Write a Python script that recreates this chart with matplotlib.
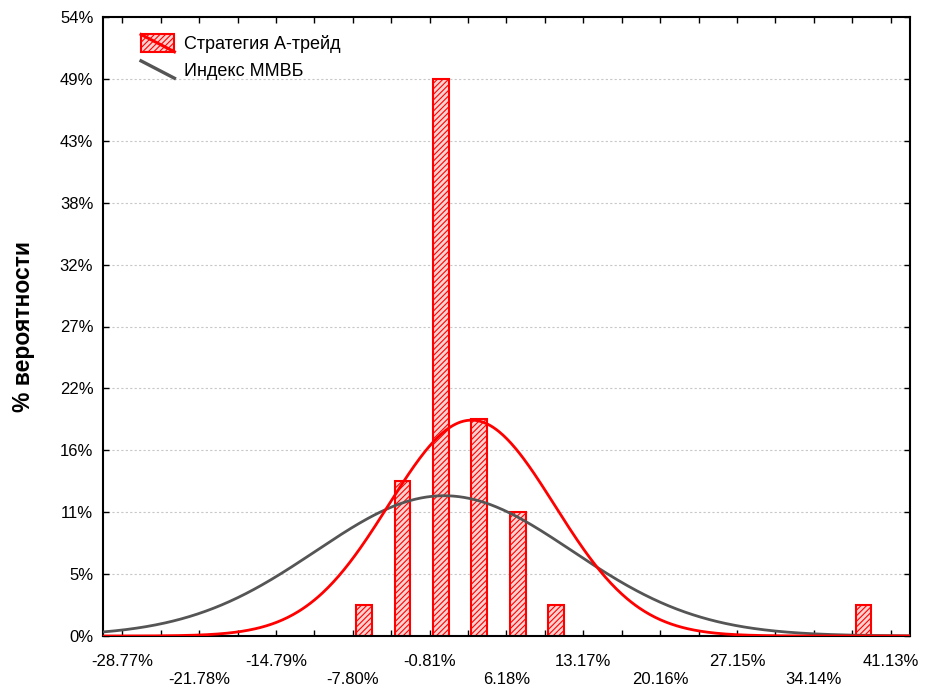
import numpy as np
import matplotlib
matplotlib.use("Agg")
import matplotlib.pyplot as plt
from matplotlib.patches import Rectangle
from matplotlib.lines import Line2D
from matplotlib.legend_handler import HandlerBase

plt.rcParams['font.family'] = ['Liberation Sans', 'DejaVu Sans']
plt.rcParams['hatch.linewidth'] = 0.8
plt.rcParams['hatch.color'] = '#ff0000'

# ---- data ----
n_obs = 37
bin_ticks = [-7.80, -4.305, -0.81, 2.685, 6.18, 9.675, 37.635]   # bin positions (%)
bin_counts = [1, 5, 18, 7, 4, 1, 1]                              # observations per bin
bin_width = 3.495

# fitted normal curves: mean, sd, peak height (in %)
strategy_mean, strategy_sd, strategy_peak = 3.0, 7.55, 18.85
index_mean, index_sd, index_peak = 0.5, 11.65, 12.25

x_labels = [-28.77, -21.78, -14.79, -7.80, -0.81, 6.18, 13.17, 20.16, 27.15, 34.14, 41.13]
y_tick_vals = [i * 2 / n_obs * 100 for i in range(11)]
y_tick_labels = ['0%', '5%', '11%', '16%', '22%', '27%', '32%', '38%', '43%', '49%', '54%']

legend_labels = ['Стратегия А-трейд', 'Индекс ММВБ']
ylabel = '% вероятности'

BAR_FACE = '#ffd2d2'
HATCH = '//////'

# ---- figure ----
fig = plt.figure(figsize=(9.34, 6.90), dpi=100)
ax = fig.add_axes([103/934, 1 - 636/690, (910-103)/934, (636-17)/690])

pct = [c / n_obs * 100 for c in bin_counts]
bar_left = [t + 0.30 for t in bin_ticks]
ax.bar(bar_left, pct, width=1.43, align='edge', facecolor=BAR_FACE,
       edgecolor='#ff0000', hatch=HATCH, linewidth=1.5, zorder=2)

xs = np.linspace(-30.52, 42.88, 600)
def gauss(x, m, s, peak):
    return peak * np.exp(-0.5 * ((x - m) / s) ** 2)

ax.plot(xs, gauss(xs, strategy_mean, strategy_sd, strategy_peak), color='#ff0000', lw=2.0, zorder=4)
ax.plot(xs, gauss(xs, index_mean, index_sd, index_peak), color='#555555', lw=2.0, zorder=3)

ax.set_xlim(-30.52, 42.88)
ax.set_ylim(0, 20 / n_obs * 100)

ax.set_yticks(y_tick_vals)
ax.set_yticklabels(y_tick_labels)
ax.set_xticks(x_labels)
ax.set_xticklabels([('%.2f%%' % v) if i % 2 == 0 else ('\n%.2f%%' % v)
                    for i, v in enumerate(x_labels)])
minor = [v + bin_width for v in x_labels[:-1]]
ax.set_xticks(minor, minor=True)

ax.tick_params(axis='both', which='both', direction='in', length=4.5, width=1,
               top=True, right=True, labelsize=12, colors='black')
ax.tick_params(axis='x', which='major', pad=13)
ax.tick_params(axis='y', which='major', pad=7)
for lbl in ax.get_xticklabels():
    lbl.set_linespacing(1.25)
ax.yaxis.grid(True, linestyle=(0, (2, 2)), color='#c8c8c8', lw=0.8, zorder=0)
ax.set_axisbelow(True)
for s in ax.spines.values():
    s.set_linewidth(1.5)

ax.set_ylabel(ylabel, fontsize=16.5, fontweight='bold', labelpad=18)


class HatchDiag(HandlerBase):
    def create_artists(self, legend, orig_handle, xdescent, ydescent, width, height, fontsize, trans):
        r = Rectangle((-xdescent, -ydescent), width, height, facecolor=BAR_FACE,
                      edgecolor='#ff0000', hatch=HATCH, lw=1.5, transform=trans)
        l = Line2D([-xdescent, -xdescent + width], [-ydescent + height, -ydescent],
                   color='#ff0000', lw=2.2, transform=trans)
        return [r, l]


class LineDiag(HandlerBase):
    def create_artists(self, legend, orig_handle, xdescent, ydescent, width, height, fontsize, trans):
        l = Line2D([-xdescent, -xdescent + width], [-ydescent + height, -ydescent],
                   color='#555555', lw=2.4, transform=trans)
        return [l]


h1 = Rectangle((0, 0), 1, 1)
h2 = Line2D([0], [0])
ax.legend([h1, h2], legend_labels, loc='upper left', bbox_to_anchor=(0.027, 0.998),
          frameon=False, fontsize=13, handlelength=1.85, handleheight=1.1,
          handletextpad=0.55, labelspacing=0.42,
          handler_map={Rectangle: HatchDiag(), Line2D: LineDiag()})

fig.savefig('out.png', dpi=100)
